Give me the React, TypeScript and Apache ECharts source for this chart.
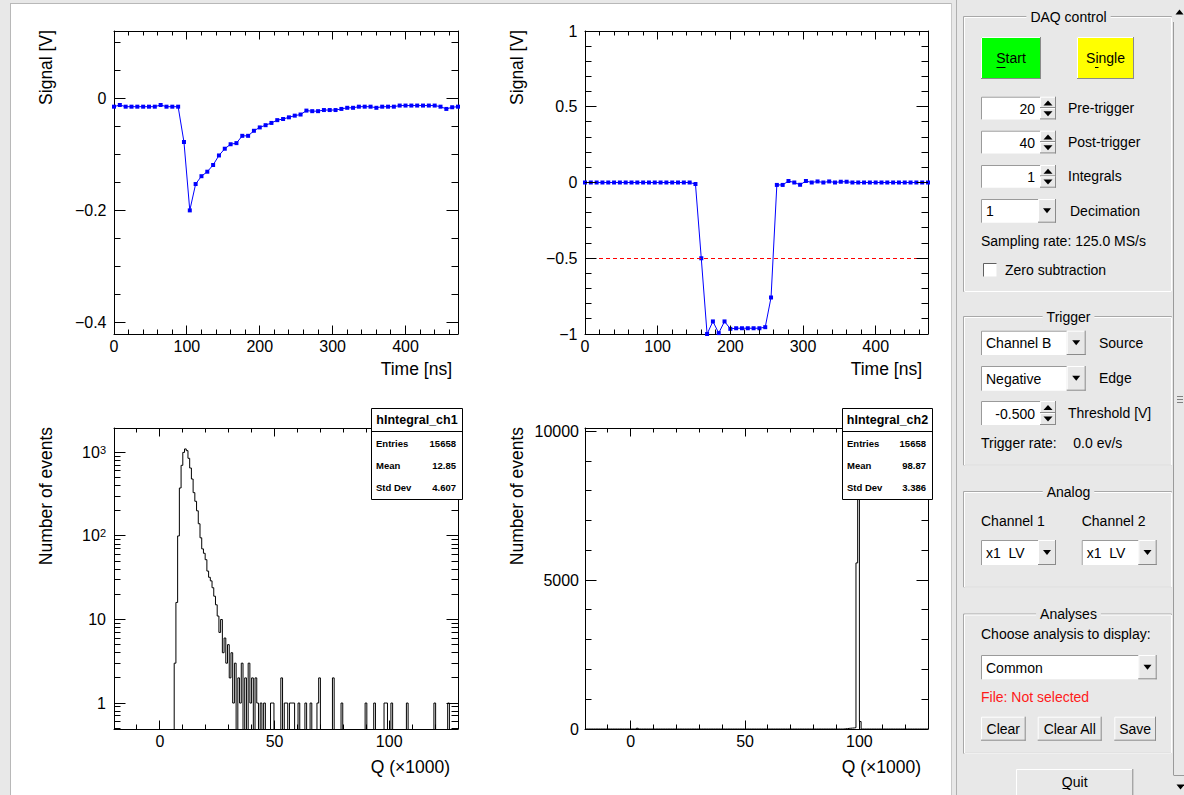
import React, { useEffect, useRef } from 'react';
import * as echarts from 'echarts';

const FONT = "'Liberation Sans', Arial, Helvetica, sans-serif";
const TICK_COLOR = '#000000';
const TICK_WIDTH = 1;

// ---- waveforms (Time [ns] / Signal [V]) ----
const timeNs = [0, 8, 16, 24, 32, 40, 48, 56, 64, 72, 80, 88, 96, 104, 112, 120, 128, 136, 144, 152, 160, 168, 176, 184, 192, 200, 208, 216, 224, 232, 240, 248, 256, 264, 272, 280, 288, 296, 304, 312, 320, 328, 336, 344, 352, 360, 368, 376, 384, 392, 400, 408, 416, 424, 432, 440, 448, 456, 464, 472];
const signalCh1 = [-0.015, -0.012, -0.015, -0.015, -0.015, -0.015, -0.015, -0.015, -0.012, -0.015, -0.015, -0.015,
  -0.078, -0.2, -0.153, -0.139, -0.131, -0.119, -0.102, -0.09, -0.082, -0.08,
  -0.067, -0.067, -0.058, -0.052, -0.048, -0.044, -0.039, -0.037, -0.034, -0.031,
  -0.029, -0.022, -0.023, -0.023, -0.021, -0.021, -0.021, -0.019, -0.017, -0.017,
  -0.015, -0.015, -0.015, -0.017, -0.015, -0.015, -0.015, -0.013, -0.013, -0.013,
  -0.013, -0.013, -0.013, -0.013, -0.015, -0.019, -0.016, -0.015];
const signalCh2 = [0, 0, 0, 0, 0, 0, 0, 0, 0, 0, 0, 0, 0, 0, 0, 0, 0, 0, 0,
  -0.01, -0.5, -1.0, -0.917, -0.994, -0.917, -0.966, -0.962, -0.962, -0.962, -0.962, -0.962, -0.955, -0.759,
  -0.016, -0.016, 0.01, 0, -0.015, 0.01, 0, 0.007, 0, 0.007, 0, 0.005, 0.005,
  0, 0, 0, 0, 0, 0, 0, 0, 0, 0, 0, 0, 0, 0];
const thresholdV = -0.5;

// ---- axis ticks ----
const timeMajor = [0, 100, 200, 300, 400];
const timeMinor = [20, 40, 60, 80, 120, 140, 160, 180, 220, 240, 260, 280, 320, 340, 360, 380, 420, 440, 460];
const ch1Major = [-0.4, -0.2, 0];
const ch1Minor = [0.1, 0.05, -0.05, -0.1, -0.15, -0.25, -0.3, -0.35];
const ch2Major = [-1, -0.5, 0, 0.5, 1];
const ch2Minor = [-0.9, -0.8, -0.7, -0.6, -0.4, -0.3, -0.2, -0.1, 0.1, 0.2, 0.3, 0.4, 0.6, 0.7, 0.8, 0.9];
const qMajor = [0, 50, 100];
const qMinor = [-10, 10, 20, 30, 40, 60, 70, 80, 90, 110, 120];
const logMajor = [1, 10, 100, 1000];
const logMinor = [0.5, 0.6, 0.7, 0.8, 0.9, 2, 3, 4, 5, 6, 7, 8, 9, 20, 30, 40, 50, 60, 70, 80, 90, 200, 300, 400, 500, 600, 700, 800, 900];
const cntMajor = [0, 5000, 10000];
const cntMinor = [1000, 2000, 3000, 4000, 6000, 7000, 8000, 9000];

// ---- histograms (Q x1000) ----
const qBinMin = -20;
const qBinMax = 130;
const qBinWidth = 0.75;
const ch1FirstEdge = 6.25;
const ch1Counts = [3, 16, 100, 375, 700, 1000, 1100, 1050, 850, 650, 480, 330, 260, 200, 140, 95, 70, 62, 52, 38,
  32, 29, 24, 19, 15, 11, 7, 10, 4, 6, 3, 5, 2, 4, 1, 3, 0, 2, 1, 3, 0, 2, 0, 3, 1, 2, 0, 2, 1, 0, 1, 0, 1];
const ch1TailQ = [48.8, 49.5, 53.4, 54.6, 55.3, 56.8, 57.5, 58.2, 60.7, 63.6, 65.8, 69.1, 69.9, 75.4, 79.0, 89.5, 93.9, 98.2, 99.0, 101.2, 107.8, 120.2, 126.0];
const ch1TailN = [1, 1, 2, 1, 1, 1, 1, 1, 1, 1, 1, 1, 2, 2, 1, 1, 1, 1, 1, 1, 1, 1, 1];
const ch2FirstEdge = 93.25;
const ch2Counts = [8, 12, 20, 25, 30, 35, 45, 5580, 9600, 250];
const ch2ExtraQ = [2.6];
const ch2ExtraN = [25];

const stats1 = ['hIntegral_ch1', '15658', '12.85', '4.607'];
const stats2 = ['hIntegral_ch2', '15658', '98.87', '3.386'];
const statNames = ['Entries', 'Mean', 'Std Dev'];

const GRIDS = [
  { left: 114, top: 31, width: 344, height: 303 },
  { left: 585, top: 31, width: 343, height: 303 },
  { left: 114, top: 428, width: 344, height: 301 },
  { left: 585, top: 428, width: 343, height: 301 },
];

function buildHist(firstEdge: number, counts: number[], exQ: number[], exN: number[], floor: number) {
  const n = Math.round((qBinMax - qBinMin) / qBinWidth);
  const c: number[] = new Array(n).fill(0);
  const k0 = Math.round((firstEdge - qBinMin) / qBinWidth);
  counts.forEach((v, i) => { c[k0 + i] = v; });
  exQ.forEach((q, i) => { const k = Math.floor((q - qBinMin) / qBinWidth); c[k] += exN[i]; });
  const pts: number[][] = [];
  for (let k = 0; k < n; k++) pts.push([qBinMin + k * qBinWidth, c[k] > 0 ? c[k] : floor]);
  pts.push([qBinMax, c[n - 1] > 0 ? c[n - 1] : floor]);
  return pts;
}

const fmtNum = (v: number) => {
  const s = String(+Math.abs(v).toFixed(6));
  return v < 0 ? '\u2212' + s : s;
};
const fmtLog = (v: number) => {
  const e = Math.round(Math.log10(v));
  return e === 0 ? '1' : e === 1 ? '10' : '10{s|' + e + '}';
};

type Spec = {
  type: string; min: number; max: number; majors: number[]; minors: number[];
  fmt: (v: number) => string; majorLen: number; minorLen: number; margin: number; rich?: any;
};

const timeSpec: Spec = { type: 'value', min: 0, max: 472, majors: timeMajor, minors: timeMinor, fmt: fmtNum, majorLen: 8.5, minorLen: 4.5, margin: 4 };
const qSpec: Spec = { type: 'value', min: -20, max: 130, majors: qMajor, minors: qMinor, fmt: fmtNum, majorLen: 8.5, minorLen: 4.5, margin: 4 };
const ch1Spec: Spec = { type: 'value', min: -0.4205, max: 0.12, majors: ch1Major, minors: ch1Minor, fmt: fmtNum, majorLen: 11.5, minorLen: 6.5, margin: 7.5 };
const ch2Spec: Spec = { type: 'value', min: -1, max: 1, majors: ch2Major, minors: ch2Minor, fmt: fmtNum, majorLen: 11.5, minorLen: 6.5, margin: 7.5 };
const logSpec: Spec = {
  type: 'log', min: 0.489, max: 1959, majors: logMajor, minors: logMinor, fmt: fmtLog, majorLen: 11.5, minorLen: 6.5, margin: 8,
  rich: { s: { fontSize: 11, fontFamily: FONT, color: '#000', verticalAlign: 'top', lineHeight: 10 } },
};
const cntSpec: Spec = { type: 'value', min: 0, max: 10114, majors: cntMajor, minors: cntMinor, fmt: fmtNum, majorLen: 11.5, minorLen: 6.5, margin: 6 };
const PLOTS = [
  { xs: timeSpec, ys: ch1Spec },
  { xs: timeSpec, ys: ch2Spec },
  { xs: qSpec, ys: logSpec },
  { xs: qSpec, ys: cntSpec },
];

function buildAxes(dim: 'x' | 'y', grid: number, s: Spec) {
  const main = dim === 'x' ? 'bottom' : 'left';
  const opp = dim === 'x' ? 'top' : 'right';
  const base = {
    gridIndex: grid, type: s.type, min: s.min, max: s.max,
    splitLine: { show: false }, minorTick: { show: false }, minorSplitLine: { show: false },
    axisTick: { show: false },
  };
  const line = { show: true, onZero: false, lineStyle: { color: '#000', width: 1 } };
  return [
    {
      ...base, position: main, axisLine: line,
      axisLabel: {
        show: true, customValues: s.majors, formatter: s.fmt, margin: s.margin, color: '#000',
        fontSize: 16, fontFamily: FONT, rich: s.rich,
      },
    },
    { ...base, position: opp, axisLine: line, axisLabel: { show: false } },
  ];
}

// tick marks on all four frame sides, positioned through the axes' own scales
function buildTicks(chart: any) {
  const els: any[] = [];
  const seg = (x1: number, y1: number, x2: number, y2: number) =>
    els.push({ type: 'line', z: 20, silent: true, shape: { x1, y1, x2, y2 }, style: { stroke: TICK_COLOR, lineWidth: TICK_WIDTH } });
  PLOTS.forEach(({ xs, ys }, g) => {
    const r = GRIDS[g];
    const top = r.top, bot = r.top + r.height, left = r.left, right = r.left + r.width;
    const xt = (v: number, len: number) => {
      const px = Number(chart.convertToPixel({ xAxisIndex: g * 2 }, v));
      if (!isFinite(px)) return;
      const x = Math.round(px - 0.5) + 0.5;
      seg(x, bot, x, bot - len);
      seg(x, top, x, top + len);
    };
    const yt = (v: number, len: number) => {
      const py = Number(chart.convertToPixel({ yAxisIndex: g * 2 }, v));
      if (!isFinite(py)) return;
      const y = Math.round(py - 0.5) + 0.5;
      seg(left, y, left + len, y);
      seg(right, y, right - len, y);
    };
    xs.majors.forEach((v) => xt(v, xs.majorLen));
    xs.minors.forEach((v) => xt(v, xs.minorLen));
    ys.majors.forEach((v) => yt(v, ys.majorLen));
    ys.minors.forEach((v) => yt(v, ys.minorLen));
  });
  return els;
}

// ---------- graphic helpers ----------
const PANEL_BG = '#e8e8e8';
function buildGraphics() {
  const G: any[] = [];
  const rect = (x: number, y: number, w: number, h: number, fill: string, stroke?: string, z = 1) =>
    G.push({ type: 'rect', z, silent: true, shape: { x, y, width: w, height: h }, style: { fill, stroke: stroke || null, lineWidth: 1 } });
  const ln = (x1: number, y1: number, x2: number, y2: number, stroke: string, z = 2) =>
    G.push({ type: 'line', z, silent: true, shape: { x1, y1, x2, y2 }, style: { stroke, lineWidth: 1 } });
  const txt = (x: number, y: number, text: string, o: any = {}) =>
    G.push({
      type: 'text', x, y, z: o.z ?? 5, silent: true, rotation: o.rot || 0,
      style: {
        text, fill: o.fill || '#000', fontSize: o.size || 14, fontFamily: FONT,
        fontWeight: o.bold ? 'bold' : 'normal', align: o.align || 'left', verticalAlign: o.va || 'middle',
        backgroundColor: o.bg, padding: o.pad,
      },
    });
  const tri = (cx: number, cy: number, up: boolean, w = 8, h = 5) =>
    G.push({
      type: 'polygon', z: 4, silent: true,
      shape: { points: up ? [[cx - w / 2, cy + h / 2], [cx + w / 2, cy + h / 2], [cx, cy - h / 2]] : [[cx - w / 2, cy - h / 2], [cx + w / 2, cy - h / 2], [cx, cy + h / 2]] },
      style: { fill: '#000' },
    });
  const raised = (x: number, y: number, w: number, h: number, fill: string) => {
    rect(x, y, w, h, fill, undefined, 2);
    ln(x + 0.5, y + 0.5, x + w - 1, y + 0.5, '#ffffff', 3);
    ln(x + 0.5, y + 0.5, x + 0.5, y + h - 1, '#ffffff', 3);
    ln(x, y + h - 0.5, x + w, y + h - 0.5, '#8a8a8a', 3);
    ln(x + w - 0.5, y, x + w - 0.5, y + h, '#8a8a8a', 3);
  };
  const sunken = (x: number, y: number, w: number, h: number) => {
    rect(x, y, w, h, '#ffffff', undefined, 2);
    ln(x + 0.5, y + 0.5, x + w, y + 0.5, '#9a9a9a', 3);
    ln(x + 0.5, y + 0.5, x + 0.5, y + h, '#9a9a9a', 3);
  };
  const spin = (y: number, h: number, value: string, label: string) => {
    sunken(981, y, 59, h);
    txt(1035, y + h / 2 + 0.5, value, { align: 'right' });
    raised(1040, y, 16, h / 2, PANEL_BG);
    raised(1040, y + h / 2, 16, h / 2, PANEL_BG);
    tri(1048, y + h * 0.25 + 0.5, true, 9, 5);
    tri(1048, y + h * 0.75, false, 9, 5);
    txt(1068, y + h / 2, label);
  };
  const combo = (x: number, y: number, w: number, h: number, bw: number, value: string) => {
    sunken(x, y, w - bw, h);
    raised(x + w - bw, y, bw, h, PANEL_BG);
    tri(x + w - bw / 2, y + h / 2, false, 8, 5);
    txt(x + 5, y + h / 2 + 0.5, value);
  };
  const frame = (y1: number, y2: number, title: string) => {
    const x1 = 963.5, x2 = 1171.5;
    G.push({ type: 'rect', z: 1, silent: true, shape: { x: x1, y: y1, width: x2 - x1, height: y2 - y1 }, style: { fill: null, stroke: '#a8a8a8', lineWidth: 1 } });
    G.push({ type: 'rect', z: 1, silent: true, shape: { x: x1 + 1, y: y1 + 1, width: x2 - x1 - 1, height: y2 - y1 - 1 }, style: { fill: null, stroke: '#ffffff', lineWidth: 1 } });
    txt(1068.5, y1, title, { align: 'center', bg: PANEL_BG, pad: [0, 4] });
  };

  // window background & canvas
  rect(11, 4, 940, 791, '#ffffff', undefined, -10);
  ln(10.5, 3, 10.5, 795, '#b8b8b8', -9);
  ln(10, 3.5, 952, 3.5, '#b8b8b8', -9);
  ln(951.5, 3, 951.5, 795, '#c8c8c8', -9);
  ln(956.5, 0, 956.5, 795, '#b0b0b0', -9);

  // axis titles
  txt(46, 30, 'Signal [V]', { rot: Math.PI / 2, align: 'right', size: 17.5 });
  txt(517, 30, 'Signal [V]', { rot: Math.PI / 2, align: 'right', size: 17.5 });
  txt(46, 427, 'Number of events', { rot: Math.PI / 2, align: 'right', size: 17.5 });
  txt(517, 427, 'Number of events', { rot: Math.PI / 2, align: 'right', size: 17.5 });
  txt(452, 368.5, 'Time [ns]', { align: 'right', size: 17.5 });
  txt(922, 368.5, 'Time [ns]', { align: 'right', size: 17.5 });
  txt(450, 767, 'Q (\u00d71000)', { align: 'right', size: 17.5 });
  txt(921, 767, 'Q (\u00d71000)', { align: 'right', size: 17.5 });

  // stat boxes
  const statBox = (x: number, w: number, s: string[]) => {
    G.push({ type: 'rect', z: 50, silent: true, shape: { x: x + 0.5, y: 408.5, width: w, height: 91 }, style: { fill: '#ffffff', stroke: '#000', lineWidth: 1 } });
    G.push({ type: 'line', z: 51, silent: true, shape: { x1: x + 0.5, y1: 431.5, x2: x + w + 0.5, y2: 431.5 }, style: { stroke: '#000', lineWidth: 1 } });
    txt(x + w / 2 + 0.5, 420, s[0], { align: 'center', bold: true, size: 12.5, z: 52 });
    const ys = [443.3, 465, 487.7];
    statNames.forEach((nm, i) => {
      txt(x + 5, ys[i], nm, { bold: true, size: 9.5, z: 52 });
      txt(x + w - 6, ys[i], s[i + 1], { bold: true, size: 9.5, z: 52, align: 'right' });
    });
  };
  statBox(371, 91, stats1);
  statBox(842, 90, stats2);

  // ---------- right control panel ----------
  frame(16.5, 291.5, 'DAQ control');
  raised(981, 37, 60, 42, '#00ff00');
  txt(1011, 58, 'Start', { align: 'center' });
  ln(996.5, 67.5, 1005.5, 67.5, '#000', 6);
  raised(1077, 37, 57, 42, '#ffff00');
  txt(1105.5, 58, 'Single', { align: 'center' });
  ln(1095, 67.5, 1098.5, 67.5, '#000', 6);
  spin(96.7, 22.7, '20', 'Pre-trigger');
  spin(130.7, 22.7, '40', 'Post-trigger');
  spin(165, 22.7, '1', 'Integrals');
  combo(981, 199, 75, 23.7, 18, '1');
  txt(1070, 210.5, 'Decimation');
  txt(981, 241, 'Sampling rate: 125.0 MS/s');
  rect(983.5, 263.5, 13, 13, '#ffffff', undefined, 2);
  ln(983.5, 263.5, 996.5, 263.5, '#606060', 3);
  ln(983.5, 263.5, 983.5, 276.5, '#606060', 3);
  txt(1005, 269.5, 'Zero subtraction');

  frame(316.5, 465, 'Trigger');
  combo(981, 330.7, 104.7, 24.3, 19, 'Channel B');
  txt(1099, 342.5, 'Source');
  combo(981, 366, 104.7, 24.7, 19, 'Negative');
  txt(1099, 378, 'Edge');
  spin(401, 24, '-0.500', 'Threshold [V]');
  txt(981, 443.3, 'Trigger rate:');
  txt(1073.3, 443.3, '0.0 ev/s');

  frame(491.5, 587, 'Analog');
  txt(981, 521, 'Channel 1');
  txt(1081.7, 521, 'Channel 2');
  combo(981, 540, 75, 25, 18, 'x1  LV');
  combo(1081.7, 540, 75, 25, 18.4, 'x1  LV');

  frame(614, 753.3, 'Analyses');
  txt(981, 634.3, 'Choose analysis to display:');
  combo(981, 655, 175.7, 24.3, 18.4, 'Common');
  txt(981, 696.7, 'File: Not selected', { fill: '#ff1a1a' });
  raised(981, 716.7, 44.7, 24, PANEL_BG);
  txt(1003.3, 729, 'Clear', { align: 'center' });
  raised(1037.7, 716.7, 64, 24, PANEL_BG);
  txt(1069.7, 729, 'Clear All', { align: 'center' });
  raised(1114.3, 716.7, 41.7, 24, PANEL_BG);
  txt(1135.2, 729, 'Save', { align: 'center' });
  raised(1016, 769, 117.3, 30, PANEL_BG);
  txt(1074.7, 781.5, 'Quit', { align: 'center' });
  ln(1062.5, 788.5, 1069.5, 788.5, '#000', 6);

  // scrollbar / splitter
  ln(1173.5, 22, 1173.5, 775, '#9a9a9a', 2);
  ln(1173.5, 775.5, 1184, 775.5, '#9a9a9a', 2);
  tri(1179.5, 12, true, 8, 5);
  tri(1180.5, 787, false, 8, 5);
  ln(1177, 396.5, 1183, 396.5, '#808080', 2);
  ln(1177, 399.5, 1183, 399.5, '#808080', 2);
  ln(1177, 402.5, 1183, 402.5, '#808080', 2);
  return G;
}

function buildOption() {
  const xAxis: any[] = [];
  const yAxis: any[] = [];
  PLOTS.forEach(({ xs, ys }, g) => {
    xAxis.push(...buildAxes('x', g, xs));
    yAxis.push(...buildAxes('y', g, ys));
  });

  const wave = (vals: number[]) => timeNs.map((t, i) => [t, vals[i]]);
  const blue = '#0000ff';

  return {
    animation: false,
    backgroundColor: PANEL_BG,
    grid: GRIDS,
    xAxis,
    yAxis,
    series: [
      {
        type: 'line', xAxisIndex: 0, yAxisIndex: 0, data: wave(signalCh1), symbol: 'rect', symbolSize: 4,
        itemStyle: { color: blue }, lineStyle: { color: blue, width: 1 }, silent: true,
      },
      {
        type: 'line', xAxisIndex: 2, yAxisIndex: 2, data: wave(signalCh2), symbol: 'rect', symbolSize: 4,
        itemStyle: { color: blue }, lineStyle: { color: blue, width: 1 }, silent: true,
        markLine: {
          silent: true, symbol: ['none', 'none'], label: { show: false },
          lineStyle: { color: '#ff0000', type: [4, 3], width: 1 },
          data: [{ yAxis: thresholdV }],
        },
      },
      {
        type: 'line', xAxisIndex: 4, yAxisIndex: 4, step: 'end', symbol: 'none', silent: true,
        data: buildHist(ch1FirstEdge, ch1Counts, ch1TailQ, ch1TailN, 0.1),
        lineStyle: { color: '#000', width: 1 },
      },
      {
        type: 'line', xAxisIndex: 6, yAxisIndex: 6, step: 'end', symbol: 'none', silent: true,
        data: buildHist(ch2FirstEdge, ch2Counts, ch2ExtraQ, ch2ExtraN, 0),
        lineStyle: { color: '#000', width: 1 },
      },
    ],
  };
}

export default function App() {
  const ref = useRef<HTMLDivElement>(null);
  useEffect(() => {
    document.body.style.margin = '0';
    const chart = echarts.init(ref.current as HTMLDivElement, null, { renderer: 'svg' });
    chart.setOption(buildOption() as any);
    const graphics = buildGraphics().concat(buildTicks(chart));
    chart.setOption({ graphic: graphics } as any);
    return () => chart.dispose();
  }, []);
  return <div ref={ref} style={{ width: 1184, height: 795 }} />;
}
